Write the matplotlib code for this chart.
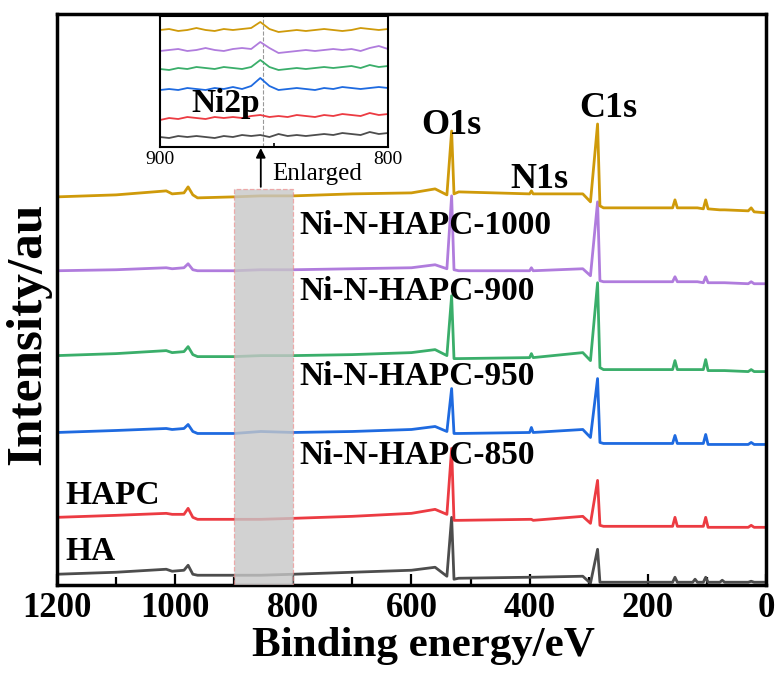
import matplotlib
matplotlib.use("Agg")
import matplotlib.pyplot as plt
from matplotlib.patches import Rectangle

plt.rcParams['font.family'] = ['Liberation Serif', 'DejaVu Serif']
plt.rcParams['font.weight'] = 'bold'

# ---------------------------------------------------------
# Survey spectra (stacked, arbitrary units)
# ---------------------------------------------------------
energy = [1200, 1100, 1015, 1005, 985, 978, 970, 962, 900, 855, 800, 700, 600,
          560, 540, 532, 528, 520, 400, 397, 394, 310, 297, 285, 281, 275,
          200, 158, 154, 150, 124, 120, 116, 106, 102, 98, 78, 74, 70,
          30, 25, 20, 0]

ha = [11, 13, 16, 14, 15, 20, 11, 10, 10, 10, 11, 13, 15,
      18, 9, 68, 6, 7, 8, 8, 8, 9, 2, 36, 3, 3,
      3, 3, 8, 3, 3, 6, 3, 3, 8, 3, 3, 5, 3,
      3, 4, 3, 3]
hapc = [68, 70, 72, 71, 71, 77, 68, 66, 66, 66, 67, 69, 72,
        76, 71, 137, 65, 65, 66, 66, 65, 69, 62, 105, 60, 59,
        59, 59, 68, 59, 59, 59, 59, 59, 68, 58, 58, 58, 58,
        58, 60, 58, 58]
ni_850 = [153, 155, 157, 156, 157, 161, 154, 152, 152, 154, 153, 154, 156,
          159, 154, 197, 152, 152, 153, 158, 153, 156, 148, 207, 143, 142,
          142, 142, 150, 142, 142, 142, 142, 142, 151, 141, 141, 141, 141,
          141, 143, 141, 141]
ni_950 = [230, 232, 235, 233, 234, 239, 231, 229, 229, 230, 230, 231, 233,
          236, 230, 290, 227, 227, 228, 232, 228, 233, 225, 303, 218, 216,
          216, 216, 225, 216, 216, 216, 216, 216, 226, 215, 215, 215, 215,
          214, 216, 214, 214]
ni_900 = [315, 316, 318, 317, 318, 322, 316, 315, 315, 316, 316, 317, 318,
          321, 317, 390, 316, 315, 315, 318, 315, 317, 310, 384, 305, 304,
          304, 304, 309, 304, 304, 304, 304, 303, 309, 303, 303, 303, 303,
          302, 304, 302, 302]
ni_1000 = [389, 391, 395, 392, 393, 399, 391, 388, 389, 390, 390, 392, 393,
           397, 391, 455, 392, 394, 392, 395, 392, 392, 384, 462, 380, 378,
           378, 378, 386, 378, 378, 378, 378, 377, 386, 377, 376, 376, 376,
           375, 378, 374, 373]

# Ni2p window, 900-800 eV
inset_energy = [900, 896, 892, 888, 884, 880, 876, 872, 868, 864, 860, 856, 852,
                848, 844, 840, 836, 832, 828, 824, 820, 816, 812, 808, 804, 800]
in_ha = [10, 9, 11, 10, 11, 10, 9, 11, 10, 12, 11, 12, 10,
         13, 11, 12, 11, 12, 13, 12, 14, 13, 12, 15, 13, 14]
in_hapc = [27, 29, 28, 30, 29, 28, 30, 29, 30, 29, 31, 32, 30,
           31, 30, 32, 31, 30, 32, 31, 33, 32, 31, 34, 32, 33]
in_850 = [57, 58, 57, 59, 58, 57, 59, 58, 60, 58, 61, 69, 61,
          57, 58, 59, 58, 57, 59, 58, 60, 59, 58, 59, 60, 59]
in_950 = [78, 77, 79, 78, 80, 79, 78, 80, 79, 78, 80, 87, 80,
          77, 78, 79, 78, 79, 80, 79, 80, 81, 79, 82, 80, 81]
in_900 = [96, 97, 98, 96, 97, 99, 97, 96, 98, 99, 98, 105, 99,
          94, 95, 96, 97, 96, 97, 98, 97, 98, 96, 99, 101, 98]
in_1000 = [117, 118, 116, 117, 119, 117, 116, 118, 117, 118, 119, 125, 118,
           115, 116, 117, 116, 117, 118, 117, 116, 117, 119, 118, 117, 118]

sample_names = ["HA", "HAPC", "Ni-N-HAPC-850", "Ni-N-HAPC-950",
                "Ni-N-HAPC-900", "Ni-N-HAPC-1000"]
colors = ['#4D4D4D', '#EC3B42', '#1E6AE0', '#3AAE6A', '#B07CDD', '#CF9A0A']
spectra = [ha, hapc, ni_850, ni_950, ni_900, ni_1000]
inset_spectra = [in_ha, in_hapc, in_850, in_950, in_900, in_1000]

# label anchors (eV, intensity)
name_pos = [(1186, 34), (1186, 90), (789, 130), (789, 209), (789, 294), (789, 360)]
peak_labels = [("O1s", 532, 460), ("N1s", 384, 406), ("C1s", 266, 478)]

fig = plt.figure(figsize=(7.8, 6.75), dpi=100)
ax = fig.add_axes([0.073, 0.133, 0.909, 0.846])

for vals, col in zip(spectra, colors):
    ax.plot(energy, vals, color=col, lw=2.0, zorder=2)

# highlighted window
ax.add_patch(Rectangle((800, 0), 100, 397, facecolor=(0.78, 0.78, 0.78, 0.8),
                       edgecolor=(0.94, 0.5, 0.5, 0.6), lw=0.9, ls='--', zorder=3))

ax.set_xlim(1200, 0)
ax.set_ylim(0, 572)
ax.set_xticks([1200, 1000, 800, 600, 400, 200, 0])
ax.set_xticks([1100, 900, 700, 500, 300, 100], minor=True)
ax.set_yticks([])
ax.tick_params(axis='x', which='major', direction='in', length=8, width=1.6,
               labelsize=25, pad=5)
ax.tick_params(axis='x', which='minor', direction='in', length=6, width=1.6)
for s in ax.spines.values():
    s.set_linewidth(2.5)

ax.set_xlabel("Binding energy/eV", fontsize=31, fontweight='bold')
ax.xaxis.set_label_coords(0.517, -0.073)
ax.set_ylabel("Intensity/au", fontsize=37, fontweight='bold')
ax.yaxis.set_label_coords(-0.008, 0.4405)

for name, (x, y) in zip(sample_names, name_pos):
    ax.text(x, y, name, fontsize=24, fontweight='bold', ha='left', va='center', zorder=4)
for txt, x, y in peak_labels:
    ax.text(x, y, txt, fontsize=26, fontweight='bold', ha='center', va='center', zorder=4)

ax.annotate('', xy=(855, 438), xytext=(855, 399),
            arrowprops=dict(arrowstyle='-|>', color='black', lw=1.3,
                            mutation_scale=14, shrinkA=0, shrinkB=0))
ax.text(836, 412, "Enlarged", fontsize=18, fontweight='normal', ha='left', va='center')

# enlarged Ni2p region
axin = fig.add_axes([0.2051, 0.7822, 0.2923, 0.1941])
for vals, col in zip(inset_spectra, colors):
    axin.plot(inset_energy, vals, color=col, lw=1.3)
axin.axvline(855, color='#999999', ls='--', lw=0.8, zorder=0)
axin.set_xlim(900, 800)
axin.set_ylim(0, 131)
axin.set_xticks([900, 850, 800])
axin.set_xticklabels(['900', '', '800'])
axin.set_yticks([])
axin.tick_params(axis='x', direction='in', length=3, width=1.2, labelsize=14, pad=3)
for lbl in axin.get_xticklabels():
    lbl.set_fontweight('normal')
for s in axin.spines.values():
    s.set_linewidth(1.5)
axin.text(871, 44, "Ni2p", fontsize=24, fontweight='bold', ha='center', va='center')

fig.savefig("out.png", dpi=100)
